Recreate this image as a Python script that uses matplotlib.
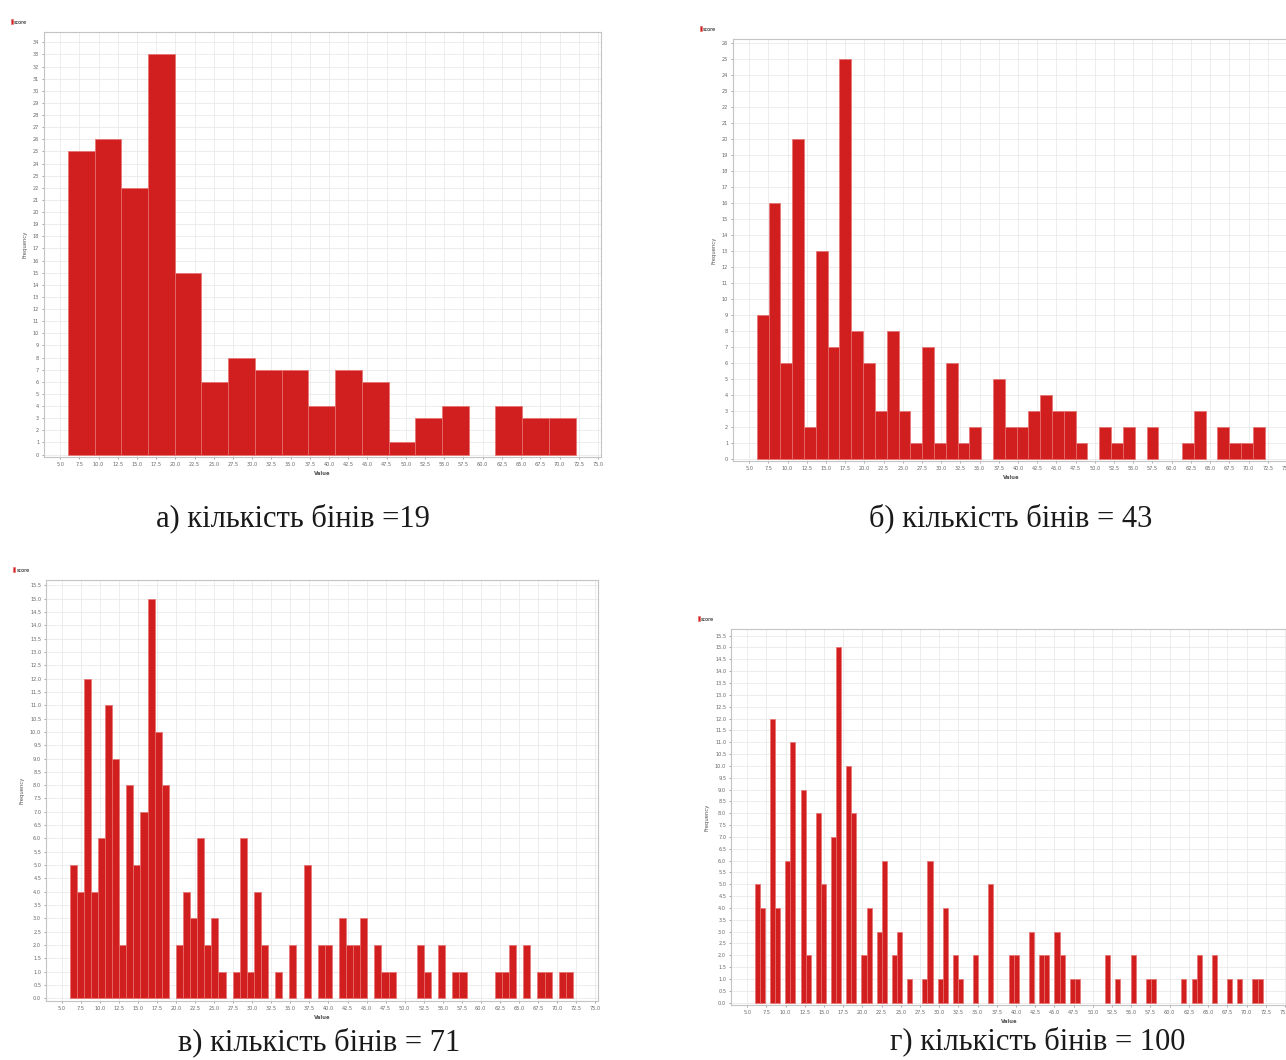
import numpy as np
import matplotlib.pyplot as plt
from matplotlib.ticker import MultipleLocator, FormatStrFormatter

# histogram counts (184 values in each)
counts_19 = [25, 26, 22, 33, 15, 6, 8, 7, 7, 4, 7, 6, 1, 3, 4, 0, 4, 3, 3]
counts_43 = [9, 16, 6, 20, 2, 13, 7, 25, 8, 6, 3, 8, 3, 1, 7, 1, 6, 1, 2, 0,
             5, 2, 2, 3, 4, 3, 3, 1, 0, 2, 1, 2, 0, 2, 0, 0, 1, 3, 0, 2, 1, 1, 2]
counts_71 = [5, 4, 12, 4, 6, 11, 9, 2, 8, 5, 7, 15, 10, 8, 0, 2, 4, 3, 6, 2,
             3, 1, 0, 1, 6, 1, 4, 2, 0, 1, 0, 2, 0, 5, 0, 2, 2, 0, 3, 2,
             2, 3, 0, 2, 1, 1, 0, 0, 0, 2, 1, 0, 2, 0, 1, 1, 0, 0, 0, 0,
             1, 1, 2, 0, 2, 0, 1, 1, 0, 1, 1]
counts_100 = [0] * 100
nonzero_100 = {0: 5, 1: 4, 3: 12, 4: 4, 6: 6, 7: 11, 9: 9, 10: 2, 12: 8, 13: 5,
               15: 7, 16: 15, 18: 10, 19: 8, 21: 2, 22: 4, 24: 3, 25: 6, 27: 2,
               28: 3, 30: 1, 33: 1, 34: 6, 36: 1, 37: 4, 39: 2, 40: 1, 43: 2,
               46: 5, 50: 2, 51: 2, 54: 3, 56: 2, 57: 2, 59: 3, 60: 2, 62: 1,
               63: 1, 69: 2, 71: 1, 74: 2, 77: 1, 78: 1, 84: 1, 86: 1, 87: 2,
               90: 2, 93: 1, 95: 1, 98: 1, 99: 1}
for k, v in nonzero_100.items():
    counts_100[k] = v

data_min, data_max = 6.0, 72.1
x_ticks = np.arange(5.0, 75.01, 2.5)

captions = ["а) кількість бінів =19", "б) кількість бінів = 43",
            "в) кількість бінів = 71", "г) кількість бінів = 100"]

bar_color = '#d11f1f'
W, H = 1286, 1060

fig = plt.figure(figsize=(W / 100, H / 100), dpi=100)

# axes boxes in pixels: left, top, right, bottom
boxes = [(44, 32, 601, 457), (733, 39, 1290, 461),
         (46, 580, 598, 1001), (731, 629, 1288, 1005)]
ylims = [(-0.2, 34.85), (-0.15, 26.25), (-0.1, 15.7), (-0.1, 15.78)]
ysteps = [1, 1, 0.5, 0.5]
yfmt = ['%d', '%d', '%.1f', '%.1f']
all_counts = [counts_19, counts_43, counts_71, counts_100]
caption_pos = [(293, 518), (1011, 518), (319, 1042), (1038, 1041)]

for i in range(4):
    l, t, r, b = boxes[i]
    ax = fig.add_axes([l / W, 1 - b / H, (r - l) / W, (b - t) / H])
    counts = np.array(all_counts[i])
    edges = np.linspace(data_min, data_max, len(counts) + 1)
    mask = counts > 0
    ax.bar(edges[:-1][mask], counts[mask], width=np.diff(edges)[mask], align='edge',
           color=bar_color, edgecolor='#e87070', linewidth=0.5, label='score', zorder=2)

    ax.set_xlim(2.9, 75.4)
    ax.set_ylim(*ylims[i])
    ax.set_xticks(x_ticks)
    ax.xaxis.set_major_formatter(FormatStrFormatter('%.1f'))
    ax.yaxis.set_major_locator(MultipleLocator(ysteps[i]))
    ax.yaxis.set_major_formatter(FormatStrFormatter(yfmt[i]))
    ax.tick_params(labelsize=3.6, colors='#666666', length=1.5, width=0.4, pad=2)
    ax.grid(True, color='#e6e6e6', linewidth=0.5, zorder=0)
    ax.set_axisbelow(True)
    for s in ax.spines.values():
        s.set_color('#c4c4c4')
        s.set_linewidth(0.8)
    ax.set_xlabel('Value', fontsize=3.8, fontweight='bold', color='#555555', labelpad=3)
    ax.set_ylabel('Frequency', fontsize=3.8, color='#555555', labelpad=4)
    ax.legend(loc='center left', bbox_to_anchor=(-0.06, 1 + 10 / (b - t)), frameon=False,
              fontsize=3.5, handlelength=0.4, handleheight=1.2, handletextpad=0.3,
              borderpad=0, borderaxespad=0)

    cx, cy = caption_pos[i]
    fig.text(cx / W, 1 - cy / H, captions[i], ha='center', va='center',
             fontsize=22, family='Liberation Serif', color='#1a1a1a')

fig.savefig('out.png', dpi=100)
